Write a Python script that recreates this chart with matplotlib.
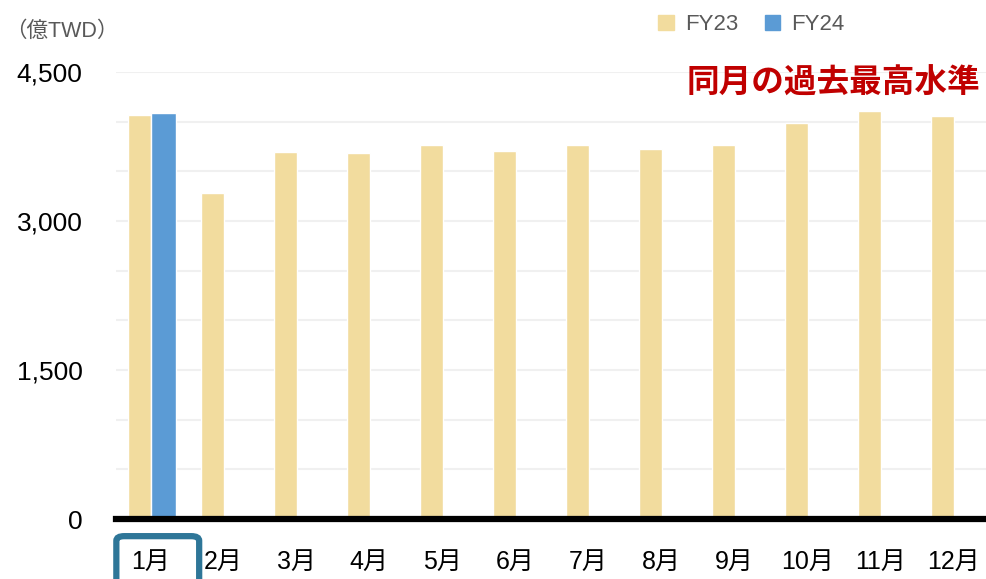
import matplotlib
matplotlib.use("Agg")
import matplotlib.pyplot as plt
from matplotlib.patches import Patch, FancyBboxPatch
import numpy as np

months = ["1月", "2月", "3月", "4月", "5月", "6月", "7月", "8月", "9月", "10月", "11月", "12月"]
fy23 = [4070, 3280, 3695, 3685, 3765, 3705, 3765, 3725, 3765, 3990, 4110, 4060]
fy24 = [4090]
series_names = ["FY23", "FY24"]
y_ticks = [0, 500, 1000, 1500, 2000, 2500, 3000, 3500, 4000, 4500]
y_labels = ["0", "", "", "1,500", "", "", "3,000", "", "", "4,500"]

c23 = "#f2dc9e"
c24 = "#5b9bd5"
fonts = ["Liberation Sans", "Noto Sans CJK JP", "DejaVu Sans"]
plt.rcParams["font.family"] = fonts

fig = plt.figure(figsize=(9.86, 5.79), dpi=100)
ax = fig.add_axes([0.1176, 0.1036, 0.8824, 0.772])

x = np.arange(len(months))
w = 0.32
ax.bar(x - 0.15, fy23, width=w, color=c23, edgecolor="white", linewidth=1, zorder=2)
ax.bar(x[:len(fy24)] + 0.18, fy24, width=w + 0.02, color=c24, edgecolor="white", linewidth=1, zorder=2)

ax.set_xlim(-0.47, 11.45)
ax.set_ylim(0, 4500)
ax.set_yticks(y_ticks)
ax.set_yticklabels(y_labels)
ax.set_xticks(x)
ax.set_xticklabels(months)
ax.tick_params(axis="y", length=0, pad=24, labelsize=19)
ax.tick_params(axis="x", length=0, pad=22, labelsize=18)
ax.grid(axis="y", color="#f0f0f0", linewidth=1.5, zorder=0)
ax.set_axisbelow(True)
for s in ["top", "right", "left"]:
    ax.spines[s].set_visible(False)
ax.spines["bottom"].set_linewidth(4.5)
ax.spines["bottom"].set_color("black")
ax.spines["bottom"].set_zorder(3)

fig.text(0.005, 0.945, "（億TWD）", fontsize=15.5, color="#595959", va="center")

handles = [Patch(color=c23), Patch(color=c24)]
fig.legend(handles, series_names, loc="center", bbox_to_anchor=(0.762, 0.957), ncol=2,
           frameon=False, fontsize=16, labelcolor="#595959",
           handlelength=0.7, handleheight=0.7, handletextpad=0.5, columnspacing=1.2)

fig.text(0.994, 0.857, "同月の過去最高水準", fontsize=23.5, fontweight="bold", color="#c00000",
         ha="right", va="center", family=["Noto Sans CJK JP"])

box = FancyBboxPatch((0.118, -0.05), 0.084, 0.124, boxstyle="round,pad=0,rounding_size=0.008",
                     transform=fig.transFigure, fill=False, edgecolor="#2e7698", linewidth=4.5,
                     clip_on=False)
fig.patches.append(box)

fig.savefig("out.png", dpi=100)
